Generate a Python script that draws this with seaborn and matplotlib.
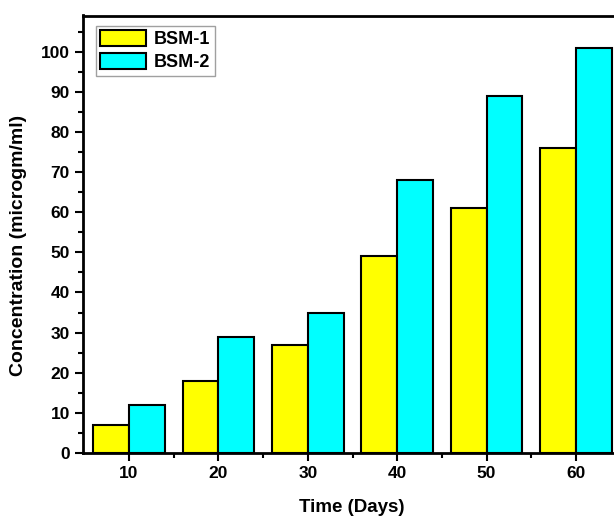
import matplotlib
matplotlib.use("Agg")
import matplotlib.pyplot as plt
import seaborn as sns
import pandas as pd
from matplotlib.ticker import MultipleLocator, FixedLocator

days = ["10", "20", "30", "40", "50", "60"]
bsm1 = [7, 18, 27, 49, 61, 76]
bsm2 = [12, 29, 35, 68, 89, 101]
series_names = ["BSM-1", "BSM-2"]
colors = ["#ffff00", "#00ffff"]

df = pd.DataFrame({
    "Day": days * 2,
    "Value": bsm1 + bsm2,
    "Series": [series_names[0]] * len(days) + [series_names[1]] * len(days),
})

sns.set_style("ticks")
plt.rcParams['font.family'] = ['Liberation Sans', 'DejaVu Sans']
plt.rcParams['font.weight'] = 'bold'
plt.rcParams['text.color'] = 'black'
plt.rcParams['axes.labelcolor'] = 'black'
plt.rcParams['xtick.color'] = 'black'
plt.rcParams['ytick.color'] = 'black'
plt.rcParams['xtick.labelcolor'] = 'black'
plt.rcParams['ytick.labelcolor'] = 'black'

fig = plt.figure(figsize=(6.14, 5.18), dpi=100)
ax = fig.add_axes([83/614, 65/518, (622-83)/614, (453-15.5)/518])

sns.barplot(data=df, x="Day", y="Value", hue="Series", palette=colors,
            edgecolor="black", linewidth=1.5, width=0.8, ax=ax, saturation=1)

ax.set_xlim(-0.515, 5.515)
ax.set_ylim(0, 109)
ax.yaxis.set_major_locator(MultipleLocator(10))
ax.yaxis.set_minor_locator(MultipleLocator(5))
ax.xaxis.set_minor_locator(FixedLocator([0.5, 1.5, 2.5, 3.5, 4.5]))
ax.tick_params(axis='both', which='major', direction='out', length=6, width=1.5,
               labelsize=12.5, color='black', labelcolor='black')
ax.tick_params(axis='both', which='minor', direction='out', length=3.5, width=1.5,
               color='black')
for lbl in ax.get_xticklabels() + ax.get_yticklabels():
    lbl.set_fontweight('bold')

for s in ['left', 'bottom', 'top']:
    ax.spines[s].set_visible(True)
    ax.spines[s].set_linewidth(2)
    ax.spines[s].set_color('black')
ax.spines['right'].set_visible(False)

ax.set_xlabel("Time (Days)", fontsize=13.5, fontweight='bold', color='black')
ax.set_ylabel("Concentration (microgm/ml)", fontsize=14, fontweight='bold', color='black')
ax.xaxis.set_label_coords((352-83)/(622-83), -(499-453)/(453-15.5))
ax.yaxis.set_label_coords(-(83-27)/(622-83), (453-245)/(453-15.5))

leg = ax.legend(loc='upper left', bbox_to_anchor=(0.024, 0.977), fontsize=13,
                frameon=True, fancybox=False, edgecolor='#888888',
                handlelength=2.5, handleheight=0.95, borderpad=0.25,
                labelspacing=0.3, handletextpad=0.45, borderaxespad=0)
for t in leg.get_texts():
    t.set_fontweight('bold')
    t.set_color('black')
leg.get_frame().set_linewidth(1.0)

fig.savefig("out.png", dpi=100, facecolor='white')
